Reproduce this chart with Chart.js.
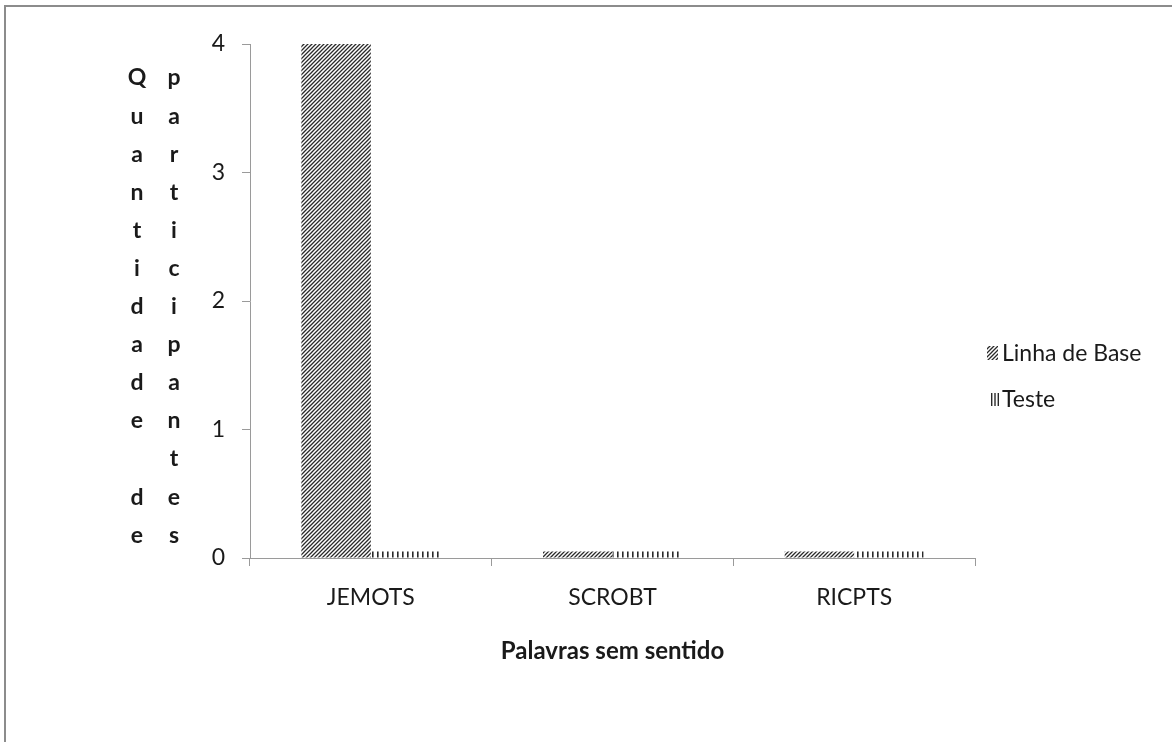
<!DOCTYPE html>
<html>
<head>
<meta charset="utf-8">
<script src="https://cdn.jsdelivr.net/npm/chart.js@4"></script>
<style>
  html, body { margin: 0; padding: 0; background: #fff; }
  #wrap { width: 1172px; height: 742px; position: relative; }
</style>
</head>
<body>
<div id="wrap"><canvas id="c" width="1172" height="742"></canvas></div>
<script>
// Data
const categories = ['JEMOTS', 'SCROBT', 'RICPTS'];
const seriesNames = ['Linha de Base', 'Teste'];
const baseValues = [4, 0.05, 0.05];
const testValues = [0.05, 0.05, 0.05];
const yTicks = [0, 1, 2, 3, 4];
const xTitle = 'Palavras sem sentido';
const yTitleColumns = ['Quantidade de', 'participantes'];

const FONT = 'Lato';
const TEXT = '#1a1a1a';
const AXIS = '#9a9a9a';
const INK = '#2a2a2a';

// Fill patterns: diagonal hatch and vertical stripes
function makePattern(kind) {
  const c = document.createElement('canvas');
  const g = c.getContext('2d');
  if (kind === 'diag') {
    c.width = c.height = 8;
    g.fillStyle = '#fff'; g.fillRect(0, 0, 8, 8);
    g.strokeStyle = INK; g.lineWidth = 1.3;
    g.beginPath();
    for (let k = -8; k <= 16; k += 4) { g.moveTo(k - 2, 10); g.lineTo(k + 10, -2); }
    g.stroke();
  } else {
    c.width = 5; c.height = 5;
    g.fillStyle = '#fff'; g.fillRect(0, 0, 5, 5);
    g.fillStyle = INK; g.fillRect(2, 0, 1.6, 5);
  }
  return g.createPattern(c, 'repeat');
}
const patterns = [makePattern('diag'), makePattern('vert')];

// Frame around the chart (top and left edges fall inside the page)
const framePlugin = {
  id: 'frame',
  beforeDraw(chart) {
    const { ctx, width, height } = chart;
    ctx.save();
    ctx.fillStyle = '#fff';
    ctx.fillRect(0, 0, width, height);
    ctx.strokeStyle = '#8c8c8c';
    ctx.lineWidth = 2;
    ctx.strokeRect(5, 6, width + 10, height + 10);
    ctx.restore();
  }
};

// Vertical, letter-by-letter y-axis title in two columns
const yTitlePlugin = {
  id: 'yTitleColumns',
  afterDraw(chart) {
    const { ctx } = chart;
    const colX = [137, 174];
    const top = 78, step = 38.1;
    ctx.save();
    ctx.fillStyle = TEXT;
    ctx.font = 'bold 23px ' + FONT;
    ctx.textAlign = 'center';
    ctx.textBaseline = 'middle';
    yTitleColumns.forEach((txt, ci) => {
      [...txt].forEach((ch, ri) => {
        if (ch !== ' ') ctx.fillText(ch, colX[ci], top + ri * step);
      });
    });
    ctx.restore();
  }
};

// Legend on the right: small hatch swatch, then the series name
const legendPlugin = {
  id: 'sideLegend',
  afterDraw(chart) {
    const { ctx } = chart;
    const rows = [353, 399];
    ctx.save();
    ctx.font = '23px ' + FONT;
    ctx.textBaseline = 'middle';
    ctx.textAlign = 'left';
    chart.data.datasets.forEach((ds, i) => {
      const y = rows[i];
      if (i === 0) {
        ctx.fillStyle = ds.backgroundColor;
        ctx.fillRect(987, y - 7, 11, 14);
      } else {
        ctx.fillStyle = INK;
        for (let k = 0; k < 3; k++) ctx.fillRect(991 + k * 3.3, y - 6, 1.4, 13);
      }
      ctx.fillStyle = TEXT;
      ctx.fillText(ds.label, 1002, y + 1);
    });
    ctx.restore();
  }
};

new Chart(document.getElementById('c'), {
  type: 'bar',
  data: {
    labels: categories,
    datasets: [
      { label: seriesNames[0], data: baseValues, backgroundColor: patterns[0], borderWidth: 0 },
      { label: seriesNames[1], data: testValues, backgroundColor: patterns[1], borderWidth: 0 }
    ]
  },
  options: {
    responsive: false,
    animation: false,
    devicePixelRatio: 1,
    layout: { padding: { left: 0, right: 197, top: 44, bottom: 0 } },
    plugins: { legend: { display: false }, tooltip: { enabled: false } },
    datasets: { bar: { categoryPercentage: 0.575, barPercentage: 1.0 } },
    scales: {
      x: {
        grid: { drawOnChartArea: false, drawTicks: true, tickLength: 8, color: AXIS, offset: true },
        border: { color: AXIS, width: 1 },
        ticks: { color: TEXT, font: { family: FONT, size: 23 }, padding: 18 },
        title: { display: true, text: xTitle, color: TEXT, font: { family: FONT, size: 24, weight: 'bold' }, padding: { top: 0, bottom: 76 } },
        afterFit(s) { s.height = 742 - 558; }
      },
      y: {
        min: 0, max: 4,
        afterBuildTicks(s) { s.ticks = yTicks.map(v => ({ value: v })); },
        grid: { drawOnChartArea: false, drawTicks: true, tickLength: 8, color: AXIS },
        border: { color: AXIS, width: 1 },
        ticks: { color: TEXT, font: { family: FONT, size: 23 }, padding: 17 },
        afterFit(s) { s.width = 250; }
      }
    }
  },
  plugins: [framePlugin, yTitlePlugin, legendPlugin]
});
</script>
</body>
</html>
